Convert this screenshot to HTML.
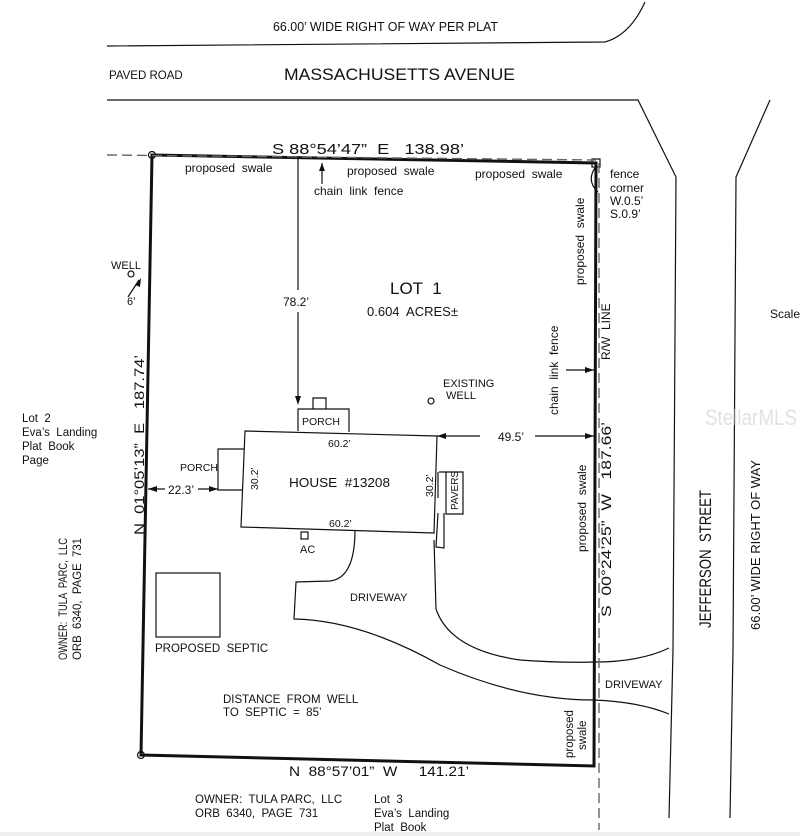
<!DOCTYPE html>
<html><head><meta charset="utf-8"><style>
html,body{margin:0;padding:0;background:#fff;}
svg{display:block;}
text{font-family:"Liberation Sans",sans-serif;fill:#111;white-space:pre;}
</style></head><body>
<svg width="800" height="836" viewBox="0 0 800 836" xmlns="http://www.w3.org/2000/svg" xml:space="preserve">
<rect width="800" height="836" fill="#fff"/>
<rect x="0" y="832" width="800" height="4" fill="#eee"/>
<g fill="none" stroke="#111" stroke-width="1.2">
<path d="M107 46 L605 42 Q630 35 645 2"/>
<path d="M107 100 L638 100 L676 177 L673 650 L669 818"/>
<path d="M770 100 L736 177 L733 650 L730 818"/>
<path d="M355 530 Q355 578 330 581 L296 582 L294 619 Q360 620 440 665 Q520 700 594 700 Q640 702 669 714"/>
<path d="M434 540 L436 609 Q450 650 520 660 Q560 663 594 662 Q640 662 669 648"/>
<path d="M245 431 L437 436 L434 533 L241 527 Z"/>
<path d="M298 431 L298 409 L349 409 L349 432"/>
<path d="M313 409 L313 398 L326 398 L326 409"/>
<path d="M244 449 L218 449 L218 490 L242 490"/>
<path d="M438 472 L438 498 M438 513 L436 547 L444 548 L444 513"/>
<path d="M439 472 L463 472 L463 514 L446 514 L446 472"/>
<rect x="301" y="532" width="7" height="7"/>
<rect x="156" y="573" width="64" height="64"/>
<circle cx="431" cy="401" r="3"/>
<circle cx="131" cy="274" r="3"/>
<circle cx="152" cy="155" r="3.5"/>
<circle cx="141" cy="755" r="3.5"/>
<rect x="592" y="159" width="8" height="8"/>
<path d="M597 165 Q585 180 598 192"/>
<path d="M298 157 L298 290 M298 312 L298 402"/>
<path d="M437 436 L480 436 M535 436 L594 436"/>
<path d="M148 489 L165 489 M198 489 L218 489"/>
<path d="M566 370 L594 370"/>
<path d="M128 297 L139 280"/>
<path d="M322 163 L322 184"/>
</g>
<g fill="#111">
<path d="M298 405 L295 396 L301 396Z"/>
<path d="M437 436 L446 433 L446 439Z"/>
<path d="M594 436 L585 433 L585 439Z"/>
<path d="M148 489 L157 486 L157 492Z"/>
<path d="M218 489 L209 486 L209 492Z"/>
<path d="M594 370 L585 367 L585 373Z"/>
<path d="M141 278 L135 285 L140 287Z"/>
<path d="M322 163 L319 171 L325 171Z"/>
</g>
<g fill="none" stroke="#111" stroke-width="3">
<path d="M152 155 L596 163 L594 766 L141 755 Z"/>
</g>
<g fill="none" stroke="#666" stroke-width="1.4" stroke-dasharray="10,5">
<path d="M107 155 L596 160"/>
<path d="M599 163 L599 830"/>
</g>
<g font-size="12.5">
<text x="273" y="31" textLength="225" lengthAdjust="spacingAndGlyphs">66.00’ WIDE RIGHT OF WAY PER PLAT</text>
<text x="109" y="79" font-size="11.5">PAVED ROAD</text>
<text x="284" y="80" font-size="17" textLength="231" lengthAdjust="spacingAndGlyphs">MASSACHUSETTS AVENUE</text>
<text x="272" y="154" font-size="15" textLength="192" lengthAdjust="spacingAndGlyphs">S 88°54’47”  E   138.98’</text>
<text x="185" y="172" font-size="12">proposed  swale</text>
<text x="347" y="175" font-size="12">proposed  swale</text>
<text x="475" y="178" font-size="12">proposed  swale</text>
<text x="314" y="195" font-size="12">chain  link  fence</text>
<text x="610" y="178" font-size="12">fence</text>
<text x="610" y="192" font-size="12">corner</text>
<text x="610" y="205" font-size="12">W.0.5’</text>
<text x="610" y="218" font-size="12">S.0.9’</text>
<text x="770" y="318" font-size="12">Scale</text>
<text x="111" y="269" font-size="11">WELL</text>
<text x="127" y="305" font-size="11">6’</text>
<text x="390" y="294" font-size="17">LOT  1</text>
<text x="367" y="316" font-size="13">0.604  ACRES±</text>
<text x="283" y="306" font-size="12">78.2’</text>
<text x="443" y="387" font-size="11">EXISTING</text>
<text x="446" y="399" font-size="11">WELL</text>
<text x="302" y="425" font-size="10.5">PORCH</text>
<text x="328" y="447" font-size="10.5">60.2’</text>
<text x="498" y="441" font-size="12">49.5’</text>
<text x="180" y="471" font-size="10.5">PORCH</text>
<text x="168" y="494" font-size="12">22.3’</text>
<text x="289" y="487" font-size="13" textLength="101" lengthAdjust="spacingAndGlyphs">HOUSE  #13208</text>
<text x="329" y="527" font-size="10.5">60.2’</text>
<text x="300" y="553" font-size="11">AC</text>
<text x="350" y="601" font-size="11">DRIVEWAY</text>
<text x="155" y="652" font-size="11.5">PROPOSED  SEPTIC</text>
<text x="223" y="703" font-size="11.5">DISTANCE  FROM  WELL</text>
<text x="223" y="716" font-size="11.5">TO  SEPTIC  =  85’</text>
<text x="605" y="688" font-size="11">DRIVEWAY</text>
<text x="289" y="776" font-size="14" textLength="180" lengthAdjust="spacingAndGlyphs">N  88°57’01”  W     141.21’</text>
<text x="195" y="803" font-size="11.5">OWNER:  TULA PARC,  LLC</text>
<text x="195" y="817" font-size="11.5">ORB  6340,  PAGE  731</text>
<text x="374" y="803" font-size="11.5">Lot  3</text>
<text x="374" y="817" font-size="11.5">Eva’s  Landing</text>
<text x="374" y="831" font-size="11.5">Plat  Book</text>
<text x="22" y="422" font-size="11.5">Lot  2</text>
<text x="22" y="436" font-size="11.5">Eva’s  Landing</text>
<text x="22" y="450" font-size="11.5">Plat  Book</text>
<text x="22" y="464" font-size="11.5">Page</text>
<text font-size="12" transform="translate(67,660) rotate(-90)" textLength="122" lengthAdjust="spacingAndGlyphs">OWNER:  TULA  PARC,  LLC</text>
<text font-size="12" transform="translate(81,660) rotate(-90)" textLength="122" lengthAdjust="spacingAndGlyphs">ORB  6340,  PAGE  731</text>
<text font-size="14" transform="translate(144,535) rotate(-90)" textLength="180" lengthAdjust="spacingAndGlyphs">N  01°05’13”  E   187.74’</text>
<text font-size="10.5" transform="translate(258,490) rotate(-90)">30.2’</text>
<text font-size="10.5" transform="translate(433,497) rotate(-90)">30.2’</text>
<text font-size="10" transform="translate(458,510) rotate(-90)">PAVERS</text>
<text font-size="12" transform="translate(584,285) rotate(-90)">proposed  swale</text>
<text font-size="12" transform="translate(558,415) rotate(-90)">chain  link  fence</text>
<text font-size="12" transform="translate(610,360) rotate(-90)">R/W  LINE</text>
<text font-size="12" transform="translate(586,552) rotate(-90)">proposed  swale</text>
<text font-size="14" transform="translate(611,617) rotate(-90)" textLength="195" lengthAdjust="spacingAndGlyphs">S  00°24’25”  W   187.66’</text>
<text font-size="11.5" transform="translate(573,758) rotate(-90)">proposed</text>
<text font-size="11.5" transform="translate(586,750) rotate(-90)">swale</text>
<text font-size="17" transform="translate(711,628) rotate(-90)" textLength="138" lengthAdjust="spacingAndGlyphs">JEFFERSON  STREET</text>
<text font-size="12.5" transform="translate(760,630) rotate(-90)" textLength="170" lengthAdjust="spacingAndGlyphs">66.00’ WIDE RIGHT OF WAY</text>
<text x="705" y="425" font-size="22" style="fill:#e2e2e2" textLength="92" lengthAdjust="spacingAndGlyphs">StellarMLS</text>
</g>
</svg>
</body></html>
